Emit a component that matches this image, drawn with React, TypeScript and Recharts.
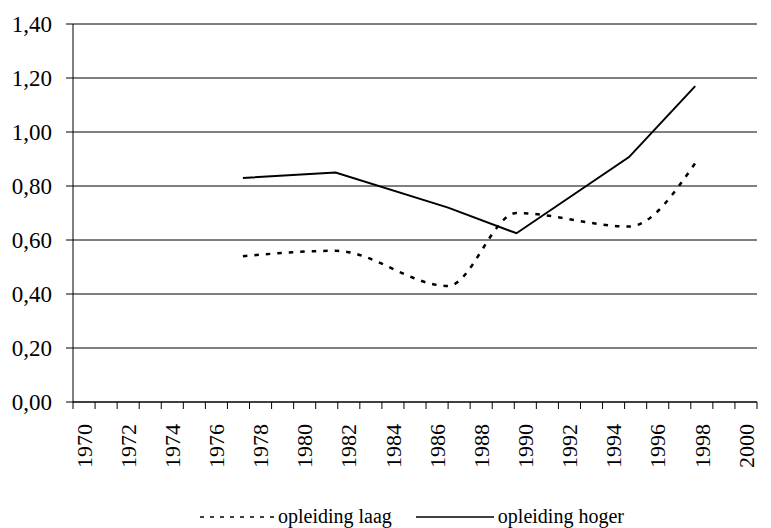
import React from 'react';
import { LineChart, Line, XAxis, YAxis, CartesianGrid, Legend } from 'recharts';

// survey moments (positions on the year axis)
const years = [1977.2, 1981.4, 1986.5, 1989.6, 1994.7, 1997.7];
const laag = [0.54, 0.56, 0.43, 0.7, 0.65, 0.885];
const hoger = [0.83, 0.85, 0.72, 0.625, 0.907, 1.17];
const yTicks = [0, 0.2, 0.4, 0.6, 0.8, 1.0, 1.2, 1.4];
const xLabelYears = [1970, 1972, 1974, 1976, 1978, 1980, 1982, 1984, 1986, 1988, 1990, 1992, 1994, 1996, 1998, 2000];
const seriesNames = { laag: 'opleiding laag', hoger: 'opleiding hoger' };

const data = years.map((x, i) => ({ x, laag: laag[i], hoger: hoger[i] }));

const tickMarks: number[] = [];
for (let v = 1969.5; v <= 2000.5; v += 1) tickMarks.push(v);
const xTicks = [...tickMarks, ...xLabelYears].sort((a, b) => a - b);

const FONT = "'Times New Roman', 'Liberation Serif', 'DejaVu Serif', serif";

const XTick = (props: any) => {
  const { x, y, payload } = props;
  const v = payload.value as number;
  if (!Number.isInteger(v)) {
    return <line x1={x} x2={x} y1={y} y2={y + 7} stroke="#000" strokeWidth={1} />;
  }
  return (
    <text
      x={x}
      y={y + 22}
      transform={`rotate(-90, ${x}, ${y + 22})`}
      textAnchor="end"
      dy="0.35em"
      fontFamily={FONT}
      fontSize={22}
      fill="#000"
    >
      {v}
    </text>
  );
};

const renderLegend = () => (
  <div
    style={{
      display: 'flex',
      alignItems: 'center',
      marginLeft: 200,
      fontFamily: FONT,
      fontSize: 20,
      color: '#000',
      lineHeight: '24px',
    }}
  >
    <svg width={74} height={10} style={{ marginRight: 4 }}>
      <line x1={0} x2={74} y1={6} y2={6} stroke="#000" strokeWidth={1.5} strokeDasharray="4 6" />
    </svg>
    <span>{seriesNames.laag}</span>
    <svg width={78} height={10} style={{ marginLeft: 24, marginRight: 4 }}>
      <line x1={0} x2={78} y1={6} y2={6} stroke="#000" strokeWidth={1.5} />
    </svg>
    <span>{seriesNames.hoger}</span>
  </div>
);

export default function App() {
  return (
    <div style={{ position: 'absolute', left: 0, top: 0, background: '#fff' }}>
      <LineChart width={771} height={528} data={data} margin={{ top: 24, right: 14, left: 0, bottom: 22 }}>
        <CartesianGrid vertical={false} stroke="#000" strokeWidth={1} />
        <XAxis
          dataKey="x"
          type="number"
          domain={[1969.5, 2000.5]}
          ticks={xTicks}
          interval={0}
          tickSize={0}
          tickMargin={0}
          tickLine={false}
          tick={<XTick />}
          axisLine={{ stroke: '#000', strokeWidth: 1 }}
          height={80}
          allowDataOverflow
        />
        <YAxis
          type="number"
          domain={[0, 1.4]}
          ticks={yTicks}
          interval={0}
          width={73}
          tickSize={7}
          tickMargin={14}
          tickFormatter={(v: number) => v.toFixed(2).replace('.', ',')}
          tick={{ fill: '#000', fontSize: 23, fontFamily: FONT }}
          axisLine={{ stroke: '#000', strokeWidth: 1 }}
          tickLine={{ stroke: '#000', strokeWidth: 1 }}
        />
        <Legend wrapperStyle={{ top: 504, left: 0, width: 771 }} content={renderLegend} />
        <Line
          type="monotone"
          dataKey="laag"
          name={seriesNames.laag}
          stroke="#000"
          strokeWidth={2.5}
          strokeDasharray="4.5 7"
          dot={false}
          isAnimationActive={false}
        />
        <Line
          type="linear"
          dataKey="hoger"
          name={seriesNames.hoger}
          stroke="#000"
          strokeWidth={2}
          dot={false}
          isAnimationActive={false}
        />
      </LineChart>
    </div>
  );
}
